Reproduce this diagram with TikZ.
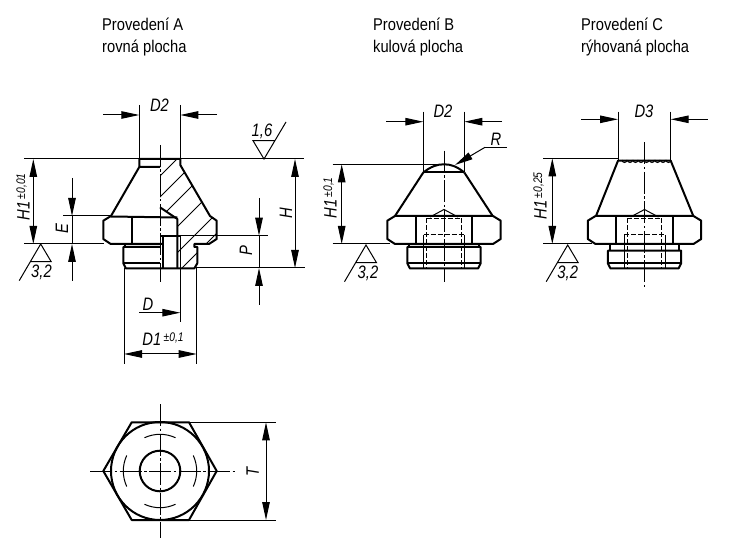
\documentclass[tikz,border=0pt]{standalone}
\usepackage{fontspec}
\setmainfont{Liberation Sans}
\usetikzlibrary{arrows.meta}

\newcommand{\tol}[1]{\,{\fontsize{12.5}{12.5}\selectfont\raisebox{4.5pt}{#1}}}

\tikzset{
  outline/.style={line width=2pt,line join=round},
  thinline/.style={line width=1pt},
  hatchline/.style={line width=1pt},
  hidden/.style={line width=1pt,dash pattern=on 5pt off 2pt},
  axis/.style={line width=1pt,dash pattern=on 22pt off 2.5pt on 2.5pt off 2.5pt},
  dimline/.style={line width=1pt},
  dimarrow/.style={line width=1pt,-{Triangle[length=18pt,width=7.5pt]}},
  dimboth/.style={line width=1pt,{Triangle[length=18pt,width=7.5pt]}-{Triangle[length=18pt,width=7.5pt]}},
  dimlabel/.style={font=\fontsize{18}{18}\selectfont\itshape,inner sep=0pt,xscale=.82},
  dimlabelup/.style={font=\fontsize{18}{18}\selectfont\itshape,inner sep=0pt,rotate=90,xscale=.82},
  titlelabel/.style={font=\fontsize{17}{22}\selectfont,inner sep=0pt,align=left,anchor=north west,xscale=.866},
}

% hexagon and thread of a side view, x=0 on the axis
\newcommand{\nutbody}[1]{
  \draw[outline] (-49,216) -- (-56.7,220.7) -- (-56.7,239) -- (-49,244) -- (49,244)
    -- (56.7,239) -- (56.7,220.7) -- (49,216) -- cycle;
  \draw[outline] (-28.4,216) -- (-28.4,244) (28.4,216) -- (28.4,244);
  \draw[outline] (-34.7,244) -- (-34.7,#1) (34.7,244) -- (34.7,#1);
  \draw[outline] (-36.7,#1) -- (36.7,#1) -- (36.7,263.3) -- (34,268.5) -- (-34,268.5)
    -- (-36.7,263.3) -- cycle;
  \draw[outline] (-36.7,263.3) -- (36.7,263.3);
  \draw[hidden] (-17.2,218.3) -- (17.2,218.3) (-17.2,218.3) -- (-17.2,268) (17.2,218.3) -- (17.2,268);
  \draw[hidden] (-20.5,235) -- (20.5,235);
  \draw[thinline] (-20.5,235) -- (-20.5,268) (20.5,235) -- (20.5,268);
  \draw[thinline] (-14,217) -- (0,209.5) -- (14,217);
}

% surface mark, apex at the origin
\newcommand{\finish}[1]{
  \draw[thinline] (-21.5,36.7) -- (0,0) -- (10.5,17.7) -- (-10.5,17.7);
}

\begin{document}
\begin{tikzpicture}[x=1pt,y=-1pt]
  \useasboundingbox (0,0) rectangle (750,553);

  % titles
  \node[titlelabel] (titleA) at (102,18) {Provedení A\\rovná plocha};
  \node[titlelabel] (titleB) at (373,18) {Provedení B\\kulová plocha};
  \node[titlelabel] (titleC) at (581,18) {Provedení C\\rýhovaná plocha};

  % view A, hatching first
  \begin{scope}
    \clip (160,159) -- (180.3,159) -- (180.3,165) -- (210,216) -- (216.7,220.7) -- (216.7,239)
      -- (209,244) -- (194.3,244) -- (194.3,247) -- (197.3,247) -- (197.3,263.3) -- (194.3,268)
      -- (177.3,268) -- (177.3,219) -- (160,207.3) -- cycle;
    \foreach \c in {336,357,378,404,430,450}
      \draw[hatchline] (\c-100,100) -- (\c-300,300);
  \end{scope}

  \draw[outline] (160,167) -- (139.3,167) -- (139.3,159) -- (180.3,159) -- (180.3,165) -- (210,216)
    -- (216.7,220.7) -- (216.7,239) -- (209,244) -- (194.3,244) -- (194.3,247) -- (197.3,247)
    -- (197.3,263.3) -- (194.3,268.5) -- (126,268.5) -- (123.3,263.3) -- (123.3,247) -- (160,247);
  \draw[outline] (139.3,167) -- (111,216) -- (103.3,220.7) -- (103.3,239) -- (110.7,244) -- (162.7,244);
  \draw[outline] (111,216.5) -- (177.3,217.5);
  \draw[outline] (131.7,216.5) -- (131.7,244) (125.3,244) -- (125.3,247) (123.3,263.3) -- (160,263.3);
  \draw[outline] (160,207.3) -- (177.3,219) -- (177.3,268);
  \draw[outline] (160,235.7) -- (180,235.7) (162.7,235.7) -- (162.7,268);
  \draw[thinline] (180,235.7) -- (180,268);
  \draw[axis] (160,145) -- (160,282);

  % view A, dimensions
  \draw[thinline] (24,159) -- (304,159);
  \draw[thinline] (24,244) -- (104,244);
  \draw[thinline] (63,216) -- (111,216);
  \draw[thinline] (180,235.7) -- (268,235.7);
  \draw[thinline] (194,268) -- (305,268);
  \draw[thinline] (139.3,105) -- (139.3,159) (180.3,105) -- (180.3,159);
  \draw[thinline] (180.3,268) -- (180.3,322);
  \draw[thinline] (124,268) -- (124,364) (196.7,268) -- (196.7,364);
  \draw[dimarrow] (103,115) -- (139.3,115);
  \draw[dimarrow] (217,115) -- (180.3,115);
  \node[dimlabel] (labelDtwoA) at (159.5,105) {D2};
  \draw[dimboth] (33.3,159) -- (33.3,244);
  \node[dimlabelup] (labelHoneA) at (23,197) {H1\tol{±0,01}};
  \draw[dimarrow] (72,178) -- (72,216);
  \draw[dimarrow] (72,281) -- (72,244);
  \draw[dimline] (72,216) -- (72,244);
  \node[dimlabelup] (labelE) at (62,229) {E};
  \draw[dimarrow] (259,198) -- (259,235.7);
  \draw[dimarrow] (259,305) -- (259,268);
  \draw[dimline] (259,235.7) -- (259,268);
  \node[dimlabelup] (labelP) at (246,251) {P};
  \draw[dimboth] (295,159) -- (295,268);
  \node[dimlabelup] (labelH) at (286,213) {H};
  \draw[dimarrow] (139.3,312.7) -- (180.3,312.7);
  \node[dimlabel] (labelD) at (148,304) {D};
  \draw[dimboth] (124,354) -- (196.7,354);
  \node[dimlabel] (labelDone) at (163,339) {D1\tol{±0,1}};
  \draw[thinline] (286,122) -- (264,159) -- (253,140.7) -- (275,140.7);
  \node[dimlabel] (labelFinishA) at (262,131) {1,6};
  \begin{scope}[shift={(40.7,244)}]
    \finish{}
  \end{scope}
  \node[dimlabel] (labelRoughA) at (41.5,272) {3,2};

  % view B
  \begin{scope}[shift={(444,0)}]
    \nutbody{247}
  \end{scope}
  \draw[outline] (395,216) -- (423.3,172.5) (492.7,216) -- (464.3,172.5);
  \draw[outline] (423.3,172.5) -- (464.3,172.5);
  \draw[outline] (423.3,172.5) .. controls (431,166.5) and (437,164.3) .. (444,164.3)
    .. controls (451,164.3) and (457,166.5) .. (464.3,172.5);
  \draw[axis] (444,150.7) -- (444,281.7);
  \draw[thinline] (332.7,164.3) -- (444,164.3);
  \draw[thinline] (332.7,244) -- (390,244);
  \draw[thinline] (423.3,111.7) -- (423.3,172) (464.3,111.7) -- (464.3,172);
  \draw[dimarrow] (386,121.7) -- (423.3,121.7);
  \draw[dimarrow] (502,121.7) -- (464.3,121.7);
  \node[dimlabel] (labelDtwoB) at (443,111) {D2};
  \draw[dimboth] (341.7,164.3) -- (341.7,244);
  \node[dimlabelup] (labelHoneB) at (330,198) {H1\tol{±0,1}};
  \draw[dimarrow] (485,147.3) -- (455,165);
  \draw[thinline] (485,147.3) -- (506.7,147.3);
  \node[dimlabel] (labelR) at (496,139) {R};
  \begin{scope}[shift={(366,245)}]
    \finish{}
  \end{scope}
  \node[dimlabel] (labelRoughB) at (368,273) {3,2};

  % view C
  \begin{scope}[shift={(644.5,0)}]
    \nutbody{250.7}
  \end{scope}
  \draw[outline] (596,216) -- (618,160.7) -- (670.7,160.7) -- (693.3,216);
  \foreach \k in {0,...,8}
    \draw[thinline] (622+5.5*\k,160) arc[start angle=180,end angle=0,radius=2.5];
  \draw[axis] (644.3,142.3) -- (644.3,286.7);
  \draw[thinline] (543.3,158.3) -- (618,158.3);
  \draw[thinline] (543.3,244) -- (592,244);
  \draw[thinline] (618,111.7) -- (618,160) (670.7,111.7) -- (670.7,160);
  \draw[dimarrow] (581,119.3) -- (618,119.3);
  \draw[dimarrow] (707.7,119.3) -- (670.7,119.3);
  \node[dimlabel] (labelDthree) at (644,111) {D3};
  \draw[dimboth] (552.3,158.3) -- (552.3,244);
  \node[dimlabelup] (labelHoneC) at (540,196) {H1\tol{±0,25}};
  \begin{scope}[shift={(567.7,245)}]
    \finish{}
  \end{scope}
  \node[dimlabel] (labelRoughC) at (567.7,273) {3,2};

  % end view
  \draw[outline] (131.7,422.3) -- (189,422.3) -- (216.7,471) -- (189,520) -- (131.7,520) -- (103.3,471) -- cycle;
  \draw[outline] (160,471) circle[radius=49];
  \draw[outline] (160,471) circle[radius=20.3];
  \foreach \a in {0,90,180,270}
    \draw[thinline] (160,471) ++(\a-25:36.7) arc[start angle=\a-25,end angle=\a+25,radius=36.7];
  \draw[axis] (160,404) -- (160,538);
  \draw[axis] (90,471) -- (235,471);
  \draw[thinline] (189,422.3) -- (275.7,422.3) (189,520) -- (275.7,520);
  \draw[dimboth] (266,422.3) -- (266,520);
  \node[dimlabelup] (labelT) at (252.7,471.5) {T};
\end{tikzpicture}
\end{document}
